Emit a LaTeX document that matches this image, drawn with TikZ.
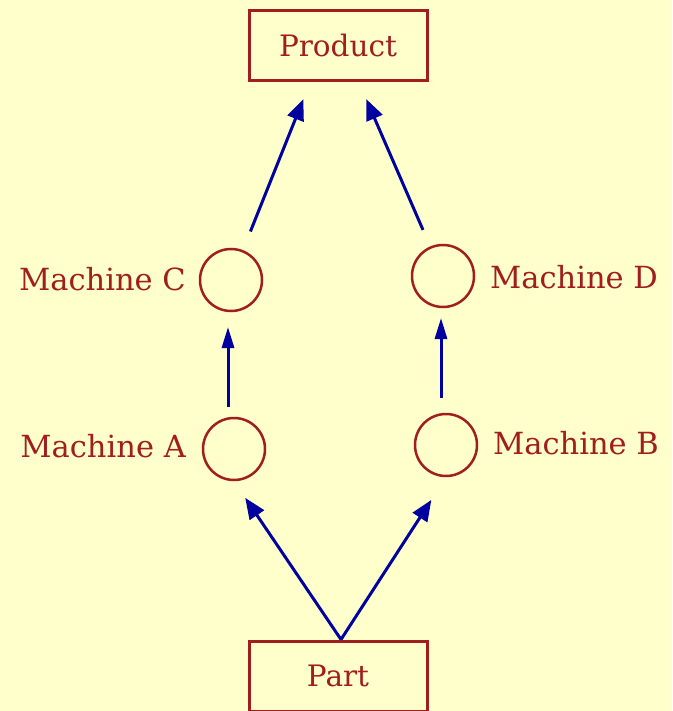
\documentclass[tikz,border=0pt]{standalone}
\usepackage{fontspec}
\setmainfont{DejaVu Serif}
\usetikzlibrary{arrows.meta,calc}
\definecolor{bg}{HTML}{FFFFCC}
\definecolor{dred}{HTML}{A01E1E}
\definecolor{navy}{HTML}{0000A0}
\begin{document}
\begin{tikzpicture}[x=1pt,y=-1pt,
  box/.style={draw=dred,line width=3pt,minimum width=178pt,minimum height=70pt,inner sep=0pt,text=dred,font=\fontsize{29.5}{32}\selectfont},
  machine/.style={circle,draw=dred,line width=2.5pt,minimum size=62pt,inner sep=0pt},
  lbl/.style={text=dred,font=\fontsize{30.5}{33}\selectfont,inner sep=0pt},
  flow/.style={draw=navy,line width=3pt,-{Triangle[length=21pt,width=17pt]}},
  vflow/.style={draw=navy,line width=3pt,-{Triangle[length=21pt,width=12pt]}}]
\useasboundingbox[fill=bg] (0,0) rectangle (672,711);
\node[box] (prod) at (338,46) {Product};
\node[box] (part) at (338,676) {Part};
\node[machine] (mc) at (231,280) {};
\node[machine] (md) at (443,276) {};
\node[machine] (ma) at (234,449) {};
\node[machine] (mb) at (446,445) {};
\node[lbl,anchor=east] (lc) at (186,279) {Machine C};
\node[lbl,anchor=east] (la) at (186,446) {Machine A};
\node[lbl,anchor=west] (ld) at (490,277) {Machine D};
\node[lbl,anchor=west] (lb) at (493,443) {Machine B};
\draw[flow,shorten >=20pt] ($(part.north)+(3,0)$) -- (ma.south);
\draw[flow,shorten >=27pt] ($(part.north)+(3,0)$) -- (mb.south);
\draw[vflow,shorten <=42pt,shorten >=47pt] ($(ma)+(-6,0)$) -- ($(mc)+(-3,0)$);
\draw[vflow,shorten <=47pt,shorten >=42pt] ($(mb)+(-5,0)$) -- ($(md)+(-2,0)$);
\draw[flow,shorten <=20pt,shorten >=18pt] (mc) -- ($(prod.south)+(-28,0)$);
\draw[flow,shorten <=18pt,shorten >=18pt] (md) -- ($(prod.south)+(21,0)$);
\end{tikzpicture}
\end{document}
